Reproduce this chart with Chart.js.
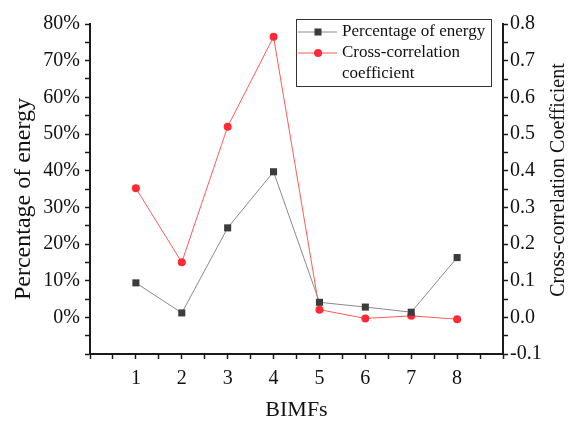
<!DOCTYPE html>
<html lang="en">
<head>
    <meta charset="UTF-8">
    <title>BIMFs energy and cross-correlation</title>
    <script src="https://cdn.jsdelivr.net/npm/chart.js"></script>
    <style>
        html, body { margin: 0; padding: 0; background: #fff; }
        .chart-container { position: relative; width: 569px; height: 421px; }
    </style>
</head>
<body>
    <div class="chart-container">
        <canvas id="bimfChart"></canvas>
    </div>

    <script>
        // data
        const bimfs = [1, 2, 3, 4, 5, 6, 7, 8];
        const energyPercent = [9.4, 1.2, 24.4, 39.7, 4.1, 2.8, 1.4, 16.3];
        const crossCorr = [0.352, 0.15, 0.52, 0.765, 0.021, -0.003, 0.004, -0.005];
        const xTickLabels = ['1', '2', '3', '4', '5', '6', '7', '8'];

        const serif = '"Liberation Serif", "Times New Roman", serif';
        const axisColor = '#1a1a1a';

        // legend + the two rotated axis titles
        const decorPlugin = {
            id: 'decor',
            afterDraw(chart) {
                const ctx = chart.ctx;
                const ds = chart.data.datasets;
                ctx.save();

                // legend box
                ctx.strokeStyle = '#333';
                ctx.lineWidth = 1;
                ctx.strokeRect(296.5, 19.5, 195, 67);

                const rows = [
                    { d: ds[0], y: 32, lines: ['Percentage of energy'] },
                    { d: ds[1], y: 53, lines: ['Cross-correlation', 'coefficient'] }
                ];
                rows.forEach(r => {
                    ctx.strokeStyle = r.d.borderColor;
                    ctx.lineWidth = 1;
                    ctx.beginPath();
                    ctx.moveTo(298, r.y);
                    ctx.lineTo(337, r.y);
                    ctx.stroke();
                    ctx.fillStyle = r.d.pointBackgroundColor;
                    ctx.strokeStyle = r.d.pointBorderColor;
                    Chart.helpers.drawPoint(ctx, {
                        pointStyle: r.d.pointStyle,
                        radius: r.d.pointRadius,
                        borderWidth: 0,
                        rotation: 0
                    }, 318, r.y);
                    ctx.fillStyle = '#111';
                    ctx.font = '17px ' + serif;
                    ctx.textAlign = 'left';
                    ctx.textBaseline = 'middle';
                    r.lines.forEach((t, i) => ctx.fillText(t, 342, r.y + i * 20.5));
                });

                // left title
                ctx.fillStyle = '#111';
                ctx.textAlign = 'center';
                ctx.textBaseline = 'middle';
                ctx.save();
                ctx.translate(24, 199);
                ctx.rotate(-Math.PI / 2);
                ctx.font = '24px ' + serif;
                ctx.fillText('Percentage of energy', 0, 0);
                ctx.restore();

                // right title
                ctx.save();
                ctx.translate(559, 180);
                ctx.rotate(-Math.PI / 2);
                ctx.font = '20px ' + serif;
                ctx.fillText('Cross-correlation Coefficient', 0, 0);
                ctx.restore();

                ctx.restore();
            }
        };

        const isMultiple = (v, step) => Math.abs(Math.round(v / step) * step - v) < 1e-6;

        const ctx = document.getElementById('bimfChart').getContext('2d');
        new Chart(ctx, {
            type: 'line',
            data: {
                datasets: [
                    {
                        label: 'Percentage of energy',
                        data: bimfs.map((b, i) => ({ x: b, y: energyPercent[i] })),
                        yAxisID: 'y',
                        borderColor: '#8a8a8a',
                        borderWidth: 1,
                        pointStyle: 'rect',
                        pointRadius: 5,
                        pointBorderWidth: 0,
                        pointBackgroundColor: '#3c3c3c',
                        pointBorderColor: '#3c3c3c',
                        tension: 0
                    },
                    {
                        label: 'Cross-correlation coefficient',
                        data: bimfs.map((b, i) => ({ x: b, y: crossCorr[i] })),
                        yAxisID: 'y1',
                        borderColor: '#ff5a5a',
                        borderWidth: 1,
                        pointStyle: 'circle',
                        pointRadius: 4,
                        pointBorderWidth: 0,
                        pointBackgroundColor: '#ff2a35',
                        pointBorderColor: '#ff2a35',
                        tension: 0
                    }
                ]
            },
            options: {
                responsive: true,
                maintainAspectRatio: false,
                animation: false,
                layout: { padding: { top: 24, bottom: 0, left: 0, right: 0 } },
                plugins: {
                    legend: { display: false },
                    tooltip: { enabled: false }
                },
                scales: {
                    x: {
                        type: 'linear',
                        min: 0,
                        max: 9,
                        afterFit: s => { s.height = 67; },
                        border: { color: axisColor, width: 2 },
                        grid: { drawOnChartArea: false, tickLength: 5, tickColor: axisColor, tickWidth: 1.5 },
                        ticks: {
                            stepSize: 0.5,
                            autoSkip: false,
                            maxRotation: 0,
                            padding: 8,
                            color: '#111',
                            font: { family: serif, size: 20 },
                            callback: v => {
                                const i = bimfs.indexOf(v);
                                return i >= 0 ? xTickLabels[i] : '';
                            }
                        },
                        title: {
                            display: true,
                            text: 'BIMFs',
                            color: '#111',
                            padding: { top: 0, bottom: 0 },
                            font: { family: serif, size: 22, lineHeight: 1 }
                        }
                    },
                    y: {
                        position: 'left',
                        min: -10,
                        max: 80,
                        afterFit: s => { s.width = 90; },
                        border: { color: axisColor, width: 2 },
                        grid: { drawOnChartArea: false, tickLength: 5, tickColor: axisColor, tickWidth: 1.5 },
                        ticks: {
                            stepSize: 5,
                            autoSkip: false,
                            padding: 5,
                            color: '#111',
                            font: { family: serif, size: 20 },
                            callback: v => (v >= 0 && isMultiple(v, 10)) ? Math.round(v) + '%' : ''
                        }
                    },
                    y1: {
                        position: 'right',
                        min: -0.1,
                        max: 0.8,
                        afterFit: s => { s.width = 66; },
                        border: { color: axisColor, width: 2 },
                        grid: { drawOnChartArea: false, tickLength: 5, tickColor: axisColor, tickWidth: 1.5 },
                        ticks: {
                            stepSize: 0.05,
                            autoSkip: false,
                            padding: 2,
                            color: '#111',
                            font: { family: serif, size: 20 },
                            callback: v => isMultiple(v, 0.1) ? (Math.round(v * 10) / 10).toFixed(1) : ''
                        }
                    }
                }
            },
            plugins: [decorPlugin]
        });
    </script>
</body>
</html>
